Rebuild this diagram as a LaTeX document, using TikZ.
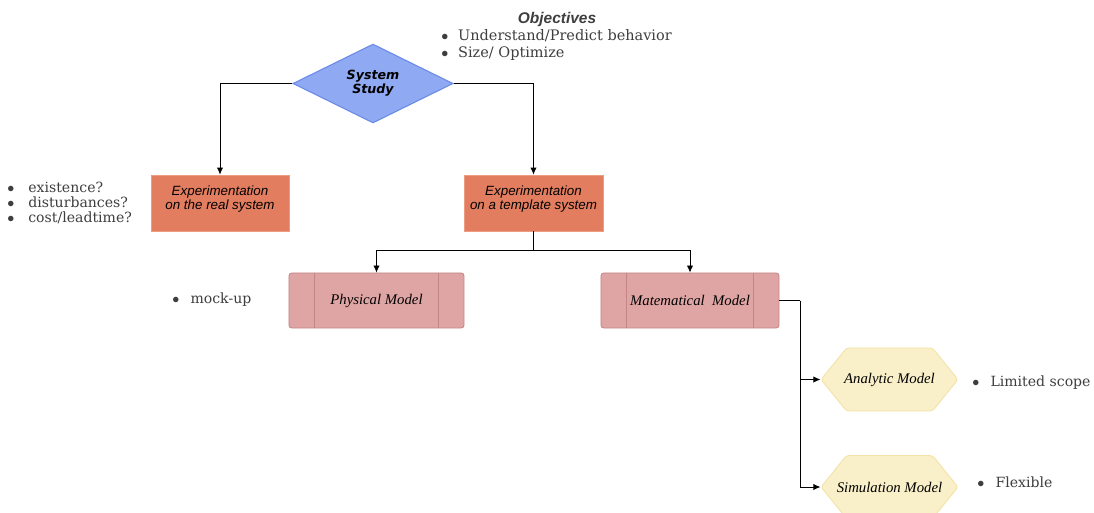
\documentclass[tikz,border=0pt]{standalone}
\usepackage{fontspec}
\setmainfont{DejaVu Serif}
\setsansfont{Liberation Sans}
\newfontfamily\modelfont{Liberation Serif}
\newfontfamily\studyfont{DejaVu Sans}
\usepackage{tikz}
\usetikzlibrary{shapes.geometric, shapes.symbols, arrows.meta}

\definecolor{studyblue}{HTML}{8FAAF2}
\definecolor{studyline}{HTML}{6C8CE6}
\definecolor{expfill}{HTML}{E27D60}
\definecolor{expline}{HTML}{EE9C80}
\definecolor{modfill}{HTML}{DFA5A4}
\definecolor{modline}{HTML}{C38585}
\definecolor{hexfill}{HTML}{F9EFC8}
\definecolor{hexline}{HTML}{F3E2A6}
\definecolor{notegray}{HTML}{3E3E3E}

% lifts a two-line label towards the top of its box
\newcommand\liftlabel[1]{\raisebox{2.5pt}[\height][\depth]{\begin{tabular}{@{}c@{}}#1\end{tabular}}}
% keeps the hexagons the same size, whatever the label
\newcommand\hexlabel[1]{\makebox[1.8cm][c]{#1}}

\begin{document}
\begin{tikzpicture}[x=0.025cm, y=-0.025cm,
		link/.style={black, line width=0.6pt},
		arrowlink/.style={link, -{Latex[length=5pt,width=4.5pt]}},
		study/.style={diamond, fill=studyblue, draw=studyline, line width=0.8pt, inner sep=0pt,
			minimum width=4cm, minimum height=1.9cm, font=\studyfont\bfseries\itshape\fontsize{9}{10}\selectfont, align=center},
		expbox/.style={rectangle, fill=expfill, draw=expline, line width=0.5pt,
			minimum width=3.45cm, minimum height=1.4cm, font=\sffamily\itshape\fontsize{9.5}{10}\selectfont},
		modbox/.style={rectangle, rounded corners=2pt, fill=modfill, draw=modline, line width=0.6pt,
			minimum height=1.375cm, font=\modelfont\itshape\fontsize{10.5}{12}\selectfont},
		hexbox/.style={signal, signal to=west and east, signal pointer angle=102, fill=hexfill, draw=hexline,
			line width=0.6pt, rounded corners=2pt, minimum width=3.425cm, minimum height=1.575cm, inner sep=0pt,
			font=\modelfont\itshape\fontsize{10.5}{12}\selectfont},
		note/.style={anchor=west, align=left, text=notegray, font=\fontsize{10}{10.8}\selectfont, inner sep=0pt}]
		\useasboundingbox (0,0) rectangle (1094,513);

		% nodes
		\node[study] (sys) at (373,83.5) {System\\Study};
		\node[expbox] (real) at (220,203) {\liftlabel{Experimentation\\on the real system}};
		\node[expbox, minimum width=3.475cm] (tmpl) at (533.5,203) {\liftlabel{Experimentation\\on a template system}};
		\node[modbox, minimum width=4.375cm] (phys) at (376.5,300.5) {Physical Model};
		\node[modbox, minimum width=4.45cm] (math) at (690,300.5) {Matematical~ Model};
		\node[hexbox] (anal) at (889.5,379.5) {\hexlabel{Analytic Model}};
		\node[hexbox] (simu) at (889.5,487) {\hexlabel{Simulation Model}};

		% side bars of the process boxes
		\draw[modline, line width=0.6pt] ([xshift=0.65cm]phys.north west) -- ([xshift=0.65cm]phys.south west);
		\draw[modline, line width=0.6pt] ([xshift=-0.65cm]phys.north east) -- ([xshift=-0.65cm]phys.south east);
		\draw[modline, line width=0.6pt] ([xshift=0.65cm]math.north west) -- ([xshift=0.65cm]math.south west);
		\draw[modline, line width=0.6pt] ([xshift=-0.65cm]math.north east) -- ([xshift=-0.65cm]math.south east);

		% notes
		\node[font=\sffamily\bfseries\itshape\fontsize{11}{12}\selectfont, text=notegray] (objt) at (557,20) {Objectives};
		\node[note, font=\fontsize{10.3}{11.4}\selectfont] (objl) at (441,45) {$\bullet$\hspace{7pt}Understand/Predict behavior\\$\bullet$\hspace{7pt}Size/ Optimize};
		\node[note] (reall) at (7,203) {$\bullet$\hspace{10pt}existence?\\$\bullet$\hspace{10pt}disturbances?\\$\bullet$\hspace{10pt}cost/leadtime?};
		\node[note] (physl) at (172,300) {$\bullet$\hspace{8pt}mock-up};
		\node[note] (anall) at (972,383) {$\bullet$\hspace{8pt}Limited scope};
		\node[note] (simul) at (977,482) {$\bullet$\hspace{8pt}Flexible};

		% connectors
		\coordinate (split) at (533.5,250);
		\coordinate (trunk) at (800,300.5);
		\draw[arrowlink] (sys.west) -| (real.north);
		\draw[arrowlink] (sys.east) -| (tmpl.north);
		\draw[link] (tmpl.south) -- (split);
		\draw[arrowlink] (split) -| (phys.north);
		\draw[arrowlink] (split) -| (math.north);
		\draw[link] (math.east) -- (trunk);
		\draw[arrowlink] (trunk) |- (anal.west);
		\draw[arrowlink] (trunk) |- (simu.west);
	\end{tikzpicture}
\end{document}
